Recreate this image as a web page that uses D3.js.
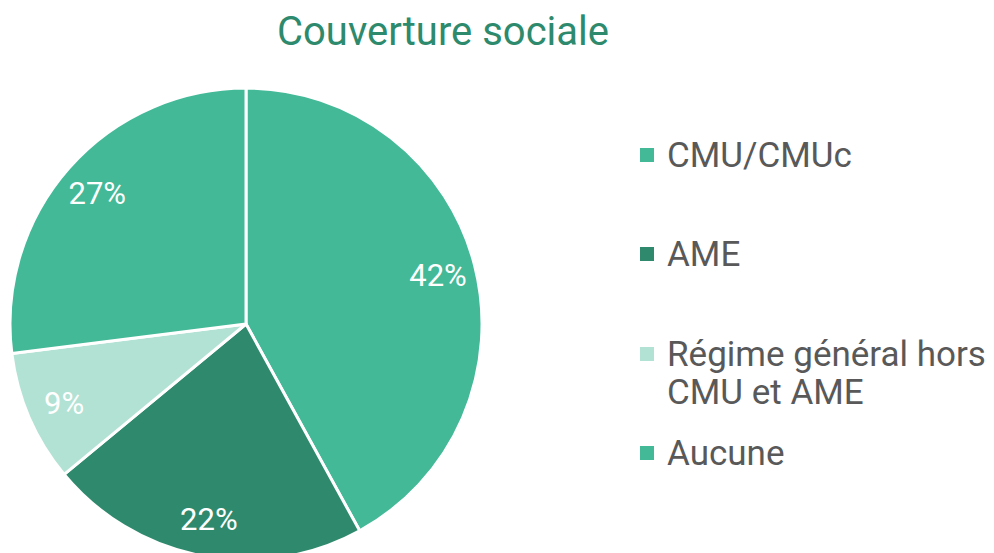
<!DOCTYPE html>
<html><head><meta charset="utf-8">
<script src="https://cdn.jsdelivr.net/npm/d3@7"></script>
<style>body{margin:0;background:#fff}svg{display:block}</style>
</head><body>
<svg id="c" width="994" height="553"></svg>
<script>
const categories = ["CMU/CMUc", "AME", "Régime général hors CMU et AME", "Aucune"];
const legendLines = [["CMU/CMUc"], ["AME"], ["Régime général hors", "CMU et AME"], ["Aucune"]];
const values = [42, 22, 9, 27];
const labels = ["42%", "22%", "9%", "27%"];
const colors = ["#43b997", "#2f8a6d", "#b2e2d4", "#43b997"];
const title = "Couverture sociale";

const svg = d3.select("#c");
const font = "Roboto, 'Liberation Sans', sans-serif";
const cx = 246, cy = 324, r = 236;

svg.append("text").attr("x", 443).attr("y", 45).attr("text-anchor", "middle")
  .attr("font-family", font).attr("font-size", 40).attr("fill", "#2e8a6c").text(title);

const pie = d3.pie().sort(null).value(d => d);
const arcs = pie(values);
const arc = d3.arc().innerRadius(0).outerRadius(r);
const g = svg.append("g").attr("transform", `translate(${cx},${cy})`);
g.selectAll("path").data(arcs).join("path")
  .attr("d", arc).attr("fill", (d, i) => colors[i])
  .attr("stroke", "#fff").attr("stroke-width", 3).attr("stroke-linejoin", "round");

const labelArc = d3.arc().innerRadius(r * 0.84).outerRadius(r * 0.84);
g.selectAll("text.l").data(arcs).join("text").attr("class", "l")
  .attr("transform", d => `translate(${labelArc.centroid(d)})`)
  .attr("text-anchor", "middle").attr("dy", "0.36em")
  .attr("font-family", font).attr("font-size", 31).attr("fill", "#fff")
  .text((d, i) => labels[i]);

const rowY = [155, 254, 354, 453];
const lg = svg.append("g");
legendLines.forEach((lines, i) => {
  lg.append("rect").attr("x", 640).attr("y", rowY[i] - 7).attr("width", 14).attr("height", 14)
    .attr("fill", colors[i]);
  const t = lg.append("text").attr("x", 667).attr("y", rowY[i])
    .attr("font-family", font).attr("font-size", 35).attr("fill", "#595959");
  lines.forEach((ln, j) => t.append("tspan").attr("x", 667).attr("dy", j === 0 ? "0.35em" : "1.09em").text(ln));
});
</script>
</body></html>
